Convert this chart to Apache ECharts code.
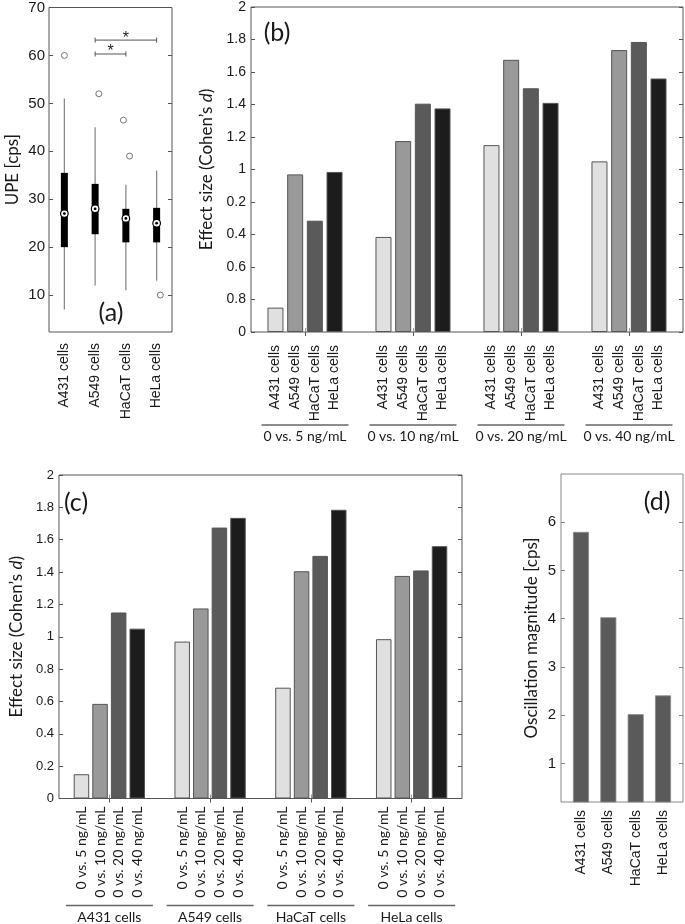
<!DOCTYPE html>
<html><head><meta charset="utf-8">
<script src="https://cdn.jsdelivr.net/npm/echarts@6/dist/echarts.min.js"></script>
<style>html,body{margin:0;padding:0;background:#fff}#c{width:685px;height:924px}</style>
</head><body><div id="c"></div>
<script>
// ---------- data ----------
const cells = ['A431 cells', 'A549 cells', 'HaCaT cells', 'HeLa cells'];
const doses = ['0 vs. 5 ng/mL', '0 vs. 10 ng/mL', '0 vs. 20 ng/mL', '0 vs. 40 ng/mL'];

// panel (a) box statistics (UPE, cps)
const boxLow  = [7, 12, 11, 13];
const boxQ1   = [20, 22.7, 21, 21];
const boxMed  = [27, 28, 26, 25];
const boxQ3   = [35.5, 33.2, 28, 28.2];
const boxHigh = [51, 45, 33, 36];
const outlierX = [1, 2.12, 2.92, 3.12, 4.12];
const outlierY = [60, 52, 46.5, 39, 10];
const sigFrom = [2, 2];
const sigTo   = [3, 4];
const sigY    = [60.3, 63.2];
const upeTicks = [10, 20, 30, 40, 50, 60, 70];

// effect sizes (Cohen's d), per cell line across doses 5,10,20,40 ng/mL
const effA431  = [0.15, 0.585, 1.15, 1.05];
const effA549  = [0.97, 1.175, 1.675, 1.735];
const effHaCaT = [0.685, 1.405, 1.5, 1.785];
const effHeLa  = [0.985, 1.376, 1.41, 1.56];
const bTickLabels = ['0', '0.8', '0.6', '0.4', '0.2', '1', '1.2', '1.4', '1.6', '1.8', '2'];

// panel (d) oscillation magnitude (cps)
const oscMag = [5.8, 4.03, 2.02, 2.41];
const oscTicks = [1, 2, 3, 4, 5, 6];

// ---------- styling ----------
const SANS = '"Liberation Sans", Arial, sans-serif';
const HUM = 'Lato, "Open Sans", sans-serif';
const TXT = '#1a1a1a';
const AX = '#555';
const shades = ['#e0e0e0', '#999999', '#5a5a5a', '#1c1c1c'];
const effByCell = [effA431, effA549, effHaCaT, effHeLa];

const chart = echarts.init(document.getElementById('c'), null, {renderer: 'canvas'});

function grid(left, top, width, height, col) {
  return {left, top, width, height, show: true, borderColor: col || AX, borderWidth: 1, backgroundColor: 'transparent'};
}
function yLeft(gi, extra) {
  return Object.assign({
    type: 'value', gridIndex: gi, position: 'left',
    axisLine: {show: false}, splitLine: {show: false},
    axisTick: {show: true, inside: true, length: 4, lineStyle: {color: AX}},
    axisLabel: {color: TXT, fontFamily: SANS, fontSize: 13, margin: 5},
    nameLocation: 'middle', nameRotate: 90,
    nameTextStyle: {fontFamily: HUM, fontSize: 17, color: TXT, rich: {i: {fontFamily: HUM, fontSize: 17, fontStyle: 'italic', color: TXT}}}
  }, extra);
}
function yRight(gi, extra) {
  return Object.assign({
    type: 'value', gridIndex: gi, position: 'right',
    axisLine: {show: false}, splitLine: {show: false},
    axisTick: {show: true, inside: true, length: 4, lineStyle: {color: AX}},
    axisLabel: {show: false}
  }, extra);
}

const groupRich = {
  ln: {width: 87, height: 1.6, lineHeight: 2, backgroundColor: '#666', fontSize: 1, align: 'center'},
  t: {fontFamily: HUM, fontSize: 14, lineHeight: 18, color: TXT, padding: [3, 0, 0, 0], align: 'center'}
};

const series = [];

// (a) compact box plot
series.push({
  type: 'custom', xAxisIndex: 0, yAxisIndex: 0,
  data: cells.map((c, i) => [i + 1, boxLow[i], boxQ1[i], boxMed[i], boxQ3[i], boxHigh[i]]),
  renderItem(params, api) {
    const x = api.value(0);
    const pl = api.coord([x, api.value(1)]);
    const p1 = api.coord([x, api.value(2)]);
    const pm = api.coord([x, api.value(3)]);
    const p3 = api.coord([x, api.value(4)]);
    const ph = api.coord([x, api.value(5)]);
    return {type: 'group', children: [
      {type: 'line', shape: {x1: pl[0], y1: pl[1], x2: ph[0], y2: ph[1]}, style: {stroke: '#8a8a8a', lineWidth: 1.3}},
      {type: 'rect', shape: {x: p1[0] - 3.5, y: p3[1], width: 7, height: p1[1] - p3[1]}, style: {fill: '#000'}},
      {type: 'circle', shape: {cx: pm[0], cy: pm[1], r: 3.8}, style: {fill: '#fff', stroke: '#000', lineWidth: 1.2}},
      {type: 'circle', shape: {cx: pm[0], cy: pm[1], r: 1.4}, style: {fill: '#000'}}
    ]};
  }
});
series.push({
  type: 'scatter', xAxisIndex: 0, yAxisIndex: 0, symbol: 'circle', symbolSize: 6,
  itemStyle: {color: '#fff', borderColor: '#555', borderWidth: 1},
  data: outlierX.map((x, i) => [x, outlierY[i]])
});
series.push({
  type: 'custom', xAxisIndex: 0, yAxisIndex: 0,
  data: sigFrom.map((f, i) => [f, sigTo[i], sigY[i]]),
  renderItem(params, api) {
    const y = api.value(2);
    const a = api.coord([api.value(0), y]);
    const b = api.coord([api.value(1), y]);
    const c = '#555';
    return {type: 'group', children: [
      {type: 'line', shape: {x1: a[0], y1: a[1], x2: b[0], y2: b[1]}, style: {stroke: c, lineWidth: 1}},
      {type: 'line', shape: {x1: a[0], y1: a[1] - 2.5, x2: a[0], y2: a[1] + 2.5}, style: {stroke: c, lineWidth: 1}},
      {type: 'line', shape: {x1: b[0], y1: b[1] - 2.5, x2: b[0], y2: b[1] + 2.5}, style: {stroke: c, lineWidth: 1}},
      {type: 'text', x: (a[0] + b[0]) / 2, y: a[1] - 2, style: {text: '*', fontSize: 16, fontFamily: SANS, fill: TXT, align: 'center', verticalAlign: 'middle'}}
    ]};
  }
});

// (b) bars grouped by dose, one series per cell line
cells.forEach((cell, i) => {
  series.push({
    type: 'bar', name: cell, xAxisIndex: 1, yAxisIndex: 2,
    data: effByCell[i], barWidth: 16, barGap: '23%',
    itemStyle: {color: shades[i], borderColor: '#555', borderWidth: 1},
    label: {show: true, position: 'bottom', distance: 13, rotate: 90, align: 'right', verticalAlign: 'middle',
      formatter: () => cell, fontFamily: SANS, fontSize: 14, color: TXT}
  });
});

// (c) bars grouped by cell line, one series per dose
doses.forEach((dose, j) => {
  series.push({
    type: 'bar', name: dose, xAxisIndex: 3, yAxisIndex: 4,
    data: effByCell.map(arr => arr[j]), barWidth: 15.5, barGap: '20%',
    itemStyle: {color: shades[j], borderColor: '#555', borderWidth: 1},
    label: {show: true, position: 'bottom', distance: 8, rotate: 90, align: 'right', verticalAlign: 'middle',
      formatter: () => dose, fontFamily: HUM, fontSize: 14, color: TXT}
  });
});

// (d)
series.push({
  type: 'bar', xAxisIndex: 5, yAxisIndex: 6, barWidth: 16,
  data: oscMag.map((v, i) => [i + 1, v]),
  itemStyle: {color: '#5a5a5a', borderColor: '#8a8a8a', borderWidth: 0.8}
});

const option = {
  backgroundColor: '#fff',
  animation: false,
  grid: [
    grid(49, 5, 123, 327),
    grid(251, 7, 432, 325),
    grid(49, 475, 413, 325),
    grid(561, 474, 122, 328, '#888')
  ],
  xAxis: [
    {type: 'value', gridIndex: 0, min: 0.5, max: 4.5, axisLine: {show: false}, splitLine: {show: false},
      axisTick: {show: false},
      axisLabel: {customValues: [1, 2, 3, 4], formatter: v => cells[Math.round(v) - 1], rotate: 90, margin: 11,
        fontFamily: SANS, fontSize: 14, color: TXT}},
    {type: 'category', gridIndex: 1, data: doses, position: 'bottom', axisLine: {show: false},
      axisTick: {show: true, inside: true, length: 4, alignWithLabel: true, lineStyle: {color: '#999'}},
      axisLabel: {margin: 92, interval: 0, formatter: v => '{ln| }\n{t|' + v + '}', rich: groupRich}},
    {type: 'category', gridIndex: 1, data: doses, position: 'top', axisLine: {show: false},
      axisTick: {show: true, inside: true, length: 4, alignWithLabel: true, lineStyle: {color: AX}},
      axisLabel: {show: false}},
    {type: 'category', gridIndex: 2, data: cells, position: 'bottom', axisLine: {show: false},
      axisTick: {show: true, inside: true, length: 4, alignWithLabel: true, lineStyle: {color: '#999'}},
      axisLabel: {margin: 106, interval: 0, formatter: v => '{ln| }\n{t|' + v + '}', rich: groupRich}},
    {type: 'category', gridIndex: 2, data: cells, position: 'top', axisLine: {show: false},
      axisTick: {show: true, inside: true, length: 4, alignWithLabel: true, lineStyle: {color: AX}},
      axisLabel: {show: false}},
    {type: 'value', gridIndex: 3, min: 0.27, max: 4.73, axisLine: {show: false}, splitLine: {show: false},
      axisTick: {show: false},
      axisLabel: {customValues: [1, 2, 3, 4], formatter: v => cells[Math.round(v) - 1], rotate: 90, margin: 8,
        fontFamily: SANS, fontSize: 14, color: TXT}}
  ],
  yAxis: [
    yLeft(0, {min: 2.3, max: 70, name: 'UPE [cps]', nameGap: 28,
      axisTick: {show: true, inside: true, length: 4, customValues: upeTicks, lineStyle: {color: AX}},
      axisLabel: {customValues: upeTicks, color: TXT, fontFamily: SANS, fontSize: 15, margin: 4}}),
    yRight(0, {min: 2.3, max: 70,
      axisTick: {show: true, inside: true, length: 4, customValues: upeTicks.slice(0, 6), lineStyle: {color: AX}}}),
    yLeft(1, {min: 0, max: 2, interval: 0.2, name: 'Effect size (Cohen’s {i|d})', nameGap: 36,
      axisLabel: {color: TXT, fontFamily: SANS, fontSize: 14, margin: 5,
        formatter: v => bTickLabels[Math.round(v / 0.2)]}}),
    yRight(1, {min: 0, max: 2, interval: 0.2}),
    yLeft(2, {min: 0, max: 2, interval: 0.2, name: 'Effect size (Cohen’s {i|d})', nameGap: 32}),
    yRight(2, {min: 0, max: 2, interval: 0.2}),
    yLeft(3, {min: 0.2, max: 7, name: 'Oscillation magnitude [cps]', nameGap: 21,
      axisTick: {show: true, inside: true, length: 4, customValues: oscTicks, lineStyle: {color: '#888'}},
      axisLabel: {customValues: oscTicks, color: TXT, fontFamily: SANS, fontSize: 15, margin: 5}}),
    yRight(3, {min: 0.2, max: 7,
      axisTick: {show: true, inside: true, length: 4, customValues: oscTicks, lineStyle: {color: '#888'}}})
  ],
  graphic: [
    {type: 'text', x: 111, y: 313, style: {text: '(a)', fontFamily: HUM, fontSize: 25, fill: TXT, align: 'center', verticalAlign: 'middle'}},
    {type: 'text', x: 277, y: 33, style: {text: '(b)', fontFamily: HUM, fontSize: 25, fill: TXT, align: 'center', verticalAlign: 'middle'}},
    {type: 'text', x: 76, y: 503, style: {text: '(c)', fontFamily: HUM, fontSize: 25, fill: TXT, align: 'center', verticalAlign: 'middle'}},
    {type: 'text', x: 657, y: 502, style: {text: '(d)', fontFamily: HUM, fontSize: 25, fill: TXT, align: 'center', verticalAlign: 'middle'}}
  ],
  series
};
chart.setOption(option);
</script></body></html>
